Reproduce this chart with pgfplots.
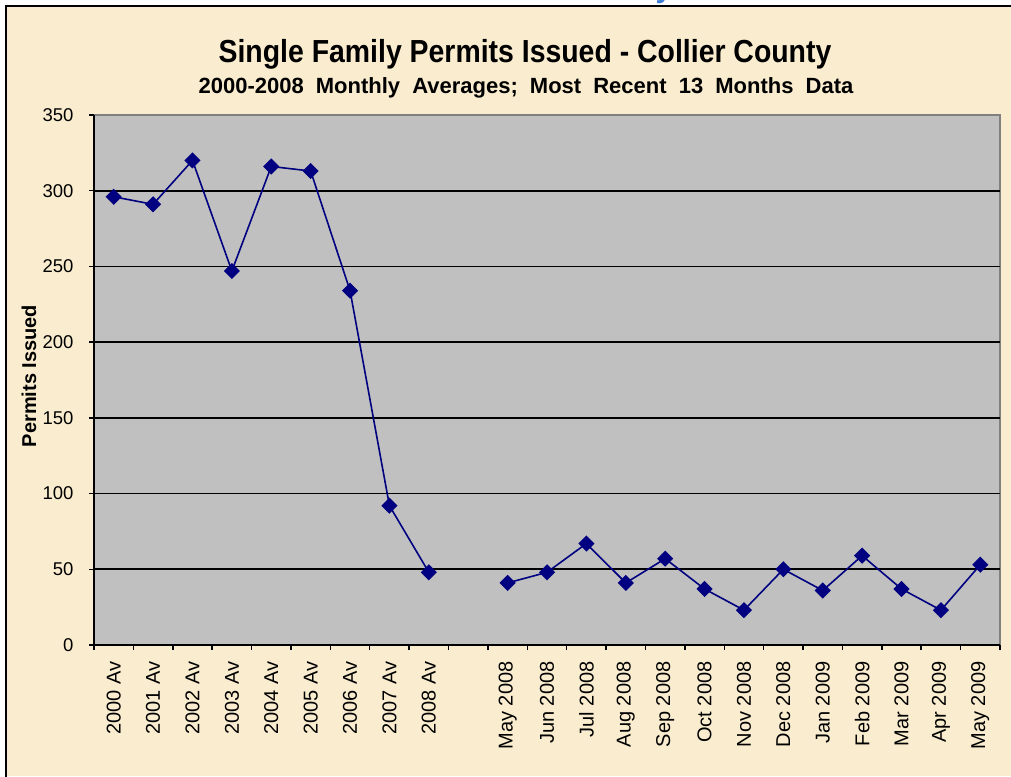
\documentclass[border=0pt]{standalone}
\usepackage{pgfplots}
\pgfplotsset{compat=1.18}
\usepackage{pgfplotstable}
\usepackage{fontspec}
\setmainfont{Liberation Sans}
\definecolor{parch}{HTML}{FAEDCF}
\definecolor{plotgray}{HTML}{C0C0C0}
\definecolor{edgegray}{HTML}{808080}
\definecolor{navy}{HTML}{000080}
\definecolor{slideblue}{HTML}{3C7FD6}

% monthly averages 2000-2008, gap, then the last 13 months
\pgfplotstableread{
x y
0 296
1 291
2 320
3 247
4 316
5 313
6 234
7 92
8 48
9 nan
10 41
11 48
12 67
13 41
14 57
15 37
16 23
17 50
18 36
19 59
20 37
21 23
22 53
}\permits

\newcommand{\ws}{\hspace{0.55em}}

\begin{document}
\begin{tikzpicture}[x=1pt,y=1pt]
\useasboundingbox (0,0) rectangle (1011,776);
\fill[white] (0,0) rectangle (1011,776);
\fill[parch] (6,0) rectangle (1011,770);
\draw[black, line width=2pt] (6,-2) -- (6,770) -- (1013,770);
\node[slideblue, font=\bfseries\fontsize{30}{30}\selectfont, anchor=base] at (664,778.5) {y};

\node[anchor=base] at (525,713)
  {\scalebox{0.98}[1.1]{\bfseries\fontsize{29}{29}\selectfont Single Family Permits Issued - Collier County}};
\node[font=\bfseries\fontsize{22}{22}\selectfont, anchor=base] at (526,682)
  {2000-2008\ws Monthly\ws Averages;\ws Most\ws Recent\ws 13\ws Months\ws Data};

\begin{axis}[
  at={(94pt,131pt)}, anchor=south west,
  width=906pt, height=530pt, scale only axis,
  xmin=-0.5, xmax=22.5, ymin=0, ymax=350,
  axis lines*=left,
  axis line style={black, line width=1.5pt},
  axis background/.style={fill=plotgray, draw=edgegray, line width=1.5pt},
  ytick={0,50,...,300},
  extra y ticks={350},
  extra y tick style={grid=none},
  ymajorgrids, grid style={black, line width=1.6pt},
  xtick={-0.5,0.5,...,22.5},
  xticklabels={},
  extra x ticks={0,...,22},
  extra x tick labels={2000 Av,2001 Av,2002 Av,2003 Av,2004 Av,2005 Av,2006 Av,2007 Av,2008 Av,{},
    May 2008,Jun 2008,Jul 2008,Aug 2008,Sep 2008,Oct 2008,Nov 2008,Dec 2008,
    Jan 2009,Feb 2009,Mar 2009,Apr 2009,May 2009},
  extra x tick style={major tick length=0pt, grid=none,
    tick label style={rotate=90, anchor=east, font=\fontsize{20}{20}\selectfont}},
  tick align=outside,
  major tick length=5pt,
  tick style={black, line width=1.5pt},
  tick label style={font=\fontsize{18.5}{18.5}\selectfont},
  /pgf/number format/assume math mode=true,
  xticklabel shift=13pt,
  yticklabel shift=12pt,
  ylabel={Permits Issued},
  every axis y label/.style={at={(axis description cs:-0.0717,0.5075)}, rotate=90, anchor=center,
    font=\bfseries\fontsize{20}{20}\selectfont},
]
\addplot[navy, line width=1.6pt, mark=square*, mark size=4.9pt,
  mark options={rotate=45, solid}, unbounded coords=jump]
  table[x=x, y=y] {\permits};
\end{axis}
\end{tikzpicture}
\end{document}
